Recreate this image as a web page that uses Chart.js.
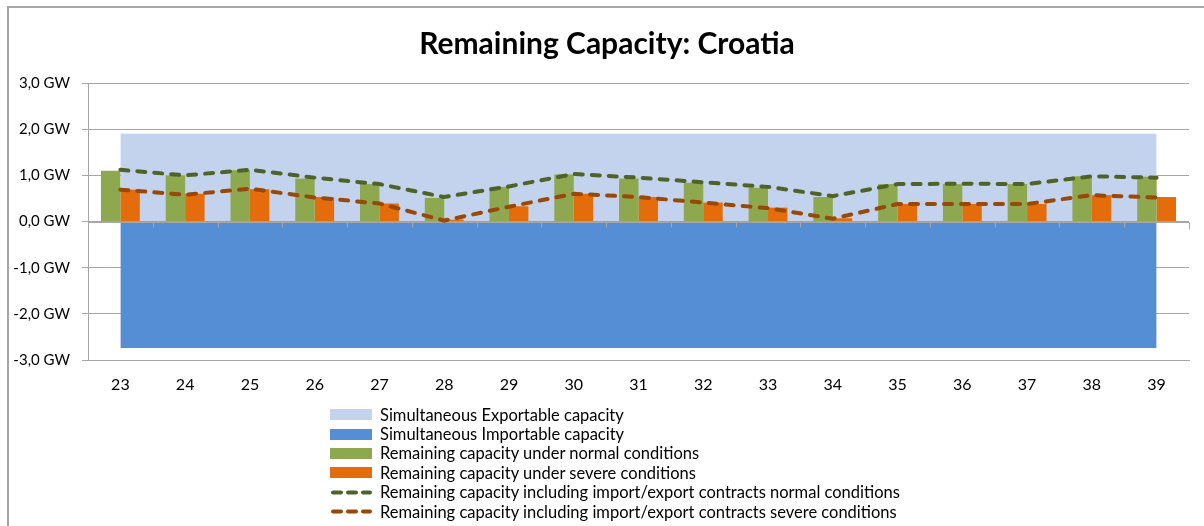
<!DOCTYPE html>
<html>
<head>
<meta charset="utf-8">
<script src="https://cdn.jsdelivr.net/npm/chart.js@4.4.1/dist/chart.umd.min.js"></script>
<style>
  html, body { margin: 0; padding: 0; background: #fff; }
  #wrap { position: relative; width: 1204px; height: 526px; overflow: hidden; }
  #frame { position: absolute; left: 7px; top: 6px; width: 1300px; height: 600px;
           border-left: 2px solid #a6a6a6; border-top: 2px solid #a6a6a6; }
  #chart { position: absolute; left: 0; top: 0; }
  #title { position: absolute; left: 0; top: 24px; width: 1214px; text-align: center;
           font-family: Lato, sans-serif; font-weight: bold; font-size: 30px; line-height: 36px; color: #000; }
  #legend { position: absolute; left: 330px; top: 405px; font-family: Lato, sans-serif;
            font-size: 16.5px; color: #000; }
  .row { height: 19.4px; display: flex; align-items: center; white-space: nowrap; }
  .sw { width: 42px; height: 11px; margin-right: 8px; flex: none; }
</style>
</head>
<body>
<div id="wrap">
  <div id="frame"></div>
  <canvas id="chart" width="1204" height="526"></canvas>
  <div id="title">Remaining Capacity: Croatia</div>
  <div id="legend"></div>
</div>
<script>
const weeks = ['23', '24', '25', '26', '27', '28', '29', '30', '31', '32', '33', '34', '35', '36', '37', '38', '39'];

const exportable = [1.9, 1.9, 1.9, 1.9, 1.9, 1.9, 1.9, 1.9, 1.9, 1.9, 1.9, 1.9, 1.9, 1.9, 1.9, 1.9, 1.9];
const importable = [-2.74, -2.74, -2.74, -2.74, -2.74, -2.74, -2.74, -2.74, -2.74, -2.74, -2.74, -2.74, -2.74, -2.74, -2.74, -2.74, -2.74];
const normalCap = [1.10, 1.0, 1.11, 0.93, 0.81, 0.51, 0.75, 1.02, 0.93, 0.84, 0.73, 0.53, 0.81, 0.81, 0.81, 0.98, 0.97];
const severeCap = [0.69, 0.60, 0.70, 0.53, 0.39, 0.04, 0.33, 0.60, 0.53, 0.41, 0.30, 0.07, 0.38, 0.38, 0.38, 0.57, 0.53];
const normalContracts = [1.12, 1.0, 1.12, 0.95, 0.81, 0.53, 0.76, 1.03, 0.95, 0.85, 0.75, 0.55, 0.81, 0.82, 0.81, 0.98, 0.95];
const severeContracts = [0.69, 0.58, 0.71, 0.52, 0.39, 0.02, 0.32, 0.60, 0.53, 0.41, 0.29, 0.06, 0.38, 0.38, 0.38, 0.57, 0.52];

const seriesNames = [
  'Simultaneous Exportable capacity',
  'Simultaneous Importable capacity',
  'Remaining capacity under normal conditions',
  'Remaining capacity under severe conditions',
  'Remaining capacity including import/export contracts normal conditions',
  'Remaining capacity including import/export contracts severe conditions'
];
const colors = ['#c3d3ee', '#558ed5', '#8da84f', '#e46c0a', '#4f6228', '#984807'];

const gridColor = '#a6a6a6';

// gray zero line with small ticks between the weeks, drawn above the areas
const zeroAxis = {
  id: 'zeroAxis',
  beforeDatasetDraw(chart, args) {
    if (args.index !== 3) return;
    const { ctx, scales: { x, y } } = chart;
    const y0 = Math.round(y.getPixelForValue(0)) + 0.5;
    ctx.save();
    ctx.strokeStyle = gridColor;
    ctx.lineWidth = 1;
    ctx.beginPath();
    ctx.moveTo(x.left, y0);
    ctx.lineTo(x.right, y0);
    for (let i = 1; i <= weeks.length; i++) {
      const px = Math.round(x.getPixelForValue(i - 0.5)) + 0.5;
      ctx.moveTo(px, y0);
      ctx.lineTo(px, y0 + (i === weeks.length ? 7 : 5));
    }
    ctx.stroke();
    ctx.restore();
  }
};

new Chart(document.getElementById('chart'), {
  type: 'bar',
  data: {
    labels: weeks,
    datasets: [
      { type: 'line', label: seriesNames[0], data: exportable, backgroundColor: colors[0],
        borderWidth: 0, pointRadius: 0, fill: 'origin', order: 6 },
      { type: 'line', label: seriesNames[1], data: importable, backgroundColor: colors[1],
        borderWidth: 0, pointRadius: 0, fill: 'origin', order: 5 },
      { label: seriesNames[2], data: normalCap, backgroundColor: colors[2], order: 3,
        categoryPercentage: 0.6, barPercentage: 1.0 },
      { label: seriesNames[3], data: severeCap, backgroundColor: colors[3], order: 4,
        categoryPercentage: 0.6, barPercentage: 1.0 },
      { type: 'line', label: seriesNames[4], data: normalContracts, borderColor: colors[4],
        borderWidth: 4, borderDash: [8, 9], borderCapStyle: 'round', pointRadius: 0,
        fill: false, tension: 0, order: 2 },
      { type: 'line', label: seriesNames[5], data: severeContracts, borderColor: colors[5],
        borderWidth: 4, borderDash: [8, 9], borderCapStyle: 'round', pointRadius: 0,
        fill: false, tension: 0, order: 1 }
    ]
  },
  options: {
    responsive: false,
    devicePixelRatio: 1,
    animation: false,
    layout: { padding: { left: 0, right: 15, top: 83, bottom: 126 } },
    plugins: {
      legend: { display: false },
      tooltip: { enabled: false },
      title: { display: false }
    },
    scales: {
      x: {
        offset: true,
        grid: { display: false },
        border: { display: true, color: gridColor },
        ticks: { color: '#000', font: { family: 'Lato', size: 16 }, padding: 7 },
        afterFit(s) { s.height = 40; }
      },
      y: {
        min: -3,
        max: 3,
        grid: { color: gridColor, tickLength: 6 },
        border: { display: true, color: gridColor },
        ticks: {
          stepSize: 1,
          color: '#000',
          padding: 12,
          font: { family: 'Lato', size: 15 },
          callback: v => v.toFixed(1).replace('.', ',') + ' GW'
        },
        afterFit(s) { s.width = 88; }
      }
    }
  },
  plugins: [zeroAxis]
});

// legend as a vertical list
const legend = document.getElementById('legend');
seriesNames.forEach((name, i) => {
  const row = document.createElement('div');
  row.className = 'row';
  let sw;
  if (i < 4) {
    sw = '<span class="sw" style="background:' + colors[i] + '"></span>';
  } else {
    sw = '<svg class="sw" width="42" height="11"><line x1="3" y1="5.5" x2="40" y2="5.5" stroke="' +
      colors[i] + '" stroke-width="4" stroke-linecap="round" stroke-dasharray="8 7"/></svg>';
  }
  row.innerHTML = sw + '<span>' + name + '</span>';
  legend.appendChild(row);
});
</script>
</body>
</html>
